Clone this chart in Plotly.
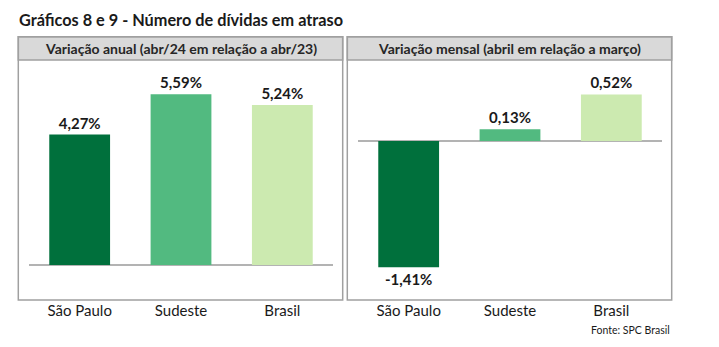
import plotly.graph_objects as go

W, H = 719, 347

categories = ["São Paulo", "Sudeste", "Brasil"]
anual = [4.27, 5.59, 5.24]
mensal = [-1.41, 0.13, 0.52]
colors = ["#00703c", "#52ba80", "#cceab0"]

title = "Gráficos 8 e 9 - Número de dívidas em atraso"
head_left = "Variação anual (abr/24 em relação a abr/23)"
head_right = "Variação mensal (abril em relação a março)"
source = "Fonte: SPC Brasil"

FONT = "Lato, Carlito, Calibri, sans-serif"


def px(x):
    return x / W


def py(y):
    return 1 - y / H


def fmt(v):
    return f"{v:.2f}".replace(".", ",") + "%"


fig = go.Figure()
for vals, xa, ya in [(anual, "x", "y"), (mensal, "x2", "y2")]:
    fig.add_trace(go.Bar(
        x=categories, y=vals, xaxis=xa, yaxis=ya,
        marker=dict(color=colors, line=dict(width=0)),
        text=[fmt(v) for v in vals], textposition="outside",
        textfont=dict(family=FONT, size=15, color="#1a1a1a", weight="bold"),
        cliponaxis=False, width=0.6, showlegend=False,
    ))

# plot area: header bottom y=60 to box bottom y=300
ytop, ybot = 60, 300
# left scale: zero at 265, 30.55 px/unit
sL, zL = 30.55, 265
rL = [-(ybot - zL) / sL, (zL - ytop) / sL]
# right scale: zero at 141, 89.5 px/unit
sR, zR = 89.5, 141
rR = [-(ybot - zR) / sR, (zR - ytop) / sR]

axis_common = dict(showgrid=False, zeroline=False, showline=False, ticks="",
                   tickfont=dict(family=FONT, size=15, color="#1a1a1a"),
                   range=[-0.5, 2.5], fixedrange=True)
yax_common = dict(showgrid=False, showticklabels=False, ticks="", showline=False,
                  zeroline=True, zerolinecolor="#b3b3b3", zerolinewidth=2,
                  fixedrange=True)

fig.update_layout(
    width=W, height=H, margin=dict(l=0, r=0, t=0, b=0),
    paper_bgcolor="white", plot_bgcolor="rgba(0,0,0,0)",
    font=dict(family=FONT),
    xaxis=dict(domain=[px(29), px(333)], anchor="y", **axis_common),
    yaxis=dict(domain=[py(ybot), py(ytop)], range=rL, anchor="x", **yax_common),
    xaxis2=dict(domain=[px(358), px(662)], anchor="y2", **axis_common),
    yaxis2=dict(domain=[py(ybot), py(ytop)], range=rR, anchor="x2", **yax_common),
    bargap=0.4,
)

shapes = []
annotations = []
for (x0, x1, head) in [(18.3, 342.7, head_left), (347.3, 671.7, head_right)]:
    shapes.append(dict(type="rect", xref="paper", yref="paper",
                       x0=px(x0), x1=px(x1), y0=py(60), y1=py(36.7),
                       fillcolor="#d9d9d9", line=dict(color="#a0a0a0", width=1.5), layer="below"))
    shapes.append(dict(type="rect", xref="paper", yref="paper",
                       x0=px(x0), x1=px(x1), y0=py(300), y1=py(36.7),
                       fillcolor="rgba(0,0,0,0)", line=dict(color="#a0a0a0", width=1.5), layer="below"))
    annotations.append(dict(text=f"<b>{head}</b>", xref="paper", yref="paper",
                            x=px((x0 + x1) / 2), y=py(48.5), showarrow=False,
                            xanchor="center", yanchor="middle",
                            font=dict(family=FONT, size=14, color="#262626")))

annotations.append(dict(text=f"<b>{title}</b>", xref="paper", yref="paper",
                        x=px(17), y=py(19.5), showarrow=False, xanchor="left", yanchor="middle",
                        font=dict(family=FONT, size=16.3, color="#1a1a1a")))
annotations.append(dict(text=source, xref="paper", yref="paper",
                        x=px(672), y=py(330), showarrow=False, xanchor="right", yanchor="middle",
                        font=dict(family=FONT, size=10.5, color="#1a1a1a")))

fig.update_layout(shapes=shapes, annotations=annotations)
fig.write_html("out.html")
